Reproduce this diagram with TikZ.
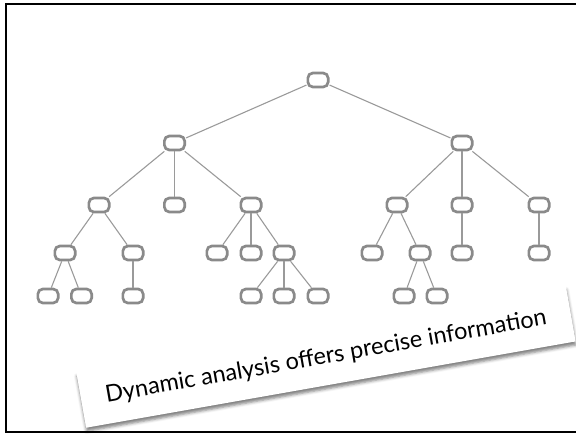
\documentclass[tikz,border=0pt]{standalone}
\usepackage{fontspec}
\setmainfont{Lato}
\usetikzlibrary{shadows,shadows.blur}
\definecolor{boxgray}{HTML}{8A8A8A}
\definecolor{edgegray}{HTML}{9A9A9A}
\tikzset{
  knot/.style={draw=boxgray,line width=2.7pt,rounded corners=5pt,fill=white,
               minimum width=20.3pt,minimum height=14pt,inner sep=0pt},
  ag/.style={draw=edgegray,line width=1.1pt},
  lap/.style={fill=white,minimum width=497pt,minimum height=56pt,inner sep=0pt,
              rotate=10,font=\fontsize{23.5}{28}\selectfont,
              blur shadow={shadow xshift=0.5pt,shadow yshift=-3.5pt,shadow blur radius=3pt,
                           shadow opacity=50}},
}

\begin{document}
\begin{tikzpicture}[x=1pt,y=-1pt]
  \useasboundingbox (0,0) rectangle (576,434);
  \clip (0,0) rectangle (576,434);
  \draw[line width=1.4pt] (6,4) rectangle (600,432);
  % tree
  \node[knot] (r) at (318,80) {};
  \node[knot] (a) at (174.5,143) {};
  \node[knot] (b) at (462,143) {};
  \node[knot] (a1) at (99,205) {};
  \node[knot] (a2) at (174.5,205) {};
  \node[knot] (a3) at (251,205) {};
  \node[knot] (b1) at (397,205) {};
  \node[knot] (b2) at (462,205) {};
  \node[knot] (b3) at (539,205) {};
  \node[knot] (a11) at (65,253) {};
  \node[knot] (a12) at (133,253) {};
  \node[knot] (a31) at (217,253) {};
  \node[knot] (a32) at (251,253) {};
  \node[knot] (a33) at (284,253) {};
  \node[knot] (b11) at (372,253) {};
  \node[knot] (b12) at (420,253) {};
  \node[knot] (b21) at (462,253) {};
  \node[knot] (b31) at (539,253) {};
  \node[knot] (a111) at (48,296) {};
  \node[knot] (a112) at (81.5,296) {};
  \node[knot] (a121) at (133,296) {};
  \node[knot] (a331) at (251,296) {};
  \node[knot] (a332) at (284,296) {};
  \node[knot] (a333) at (318,296) {};
  \node[knot] (b121) at (404,296) {};
  \node[knot] (b122) at (437,296) {};
  \foreach \p/\c in {r/a,r/b,a/a1,a/a2,a/a3,b/b1,b/b2,b/b3,a1/a11,a1/a12,a3/a31,a3/a32,
                     a3/a33,b1/b11,b1/b12,b2/b21,b3/b31,a11/a111,a11/a112,a12/a121,
                     a33/a331,a33/a332,a33/a333,b12/b121,b12/b122}
    \draw[ag] (\p) -- (\c);
  % caption card
  \node[lap] (card) at (326,357) {Dynamic analysis offers precise information};
\end{tikzpicture}
\end{document}
